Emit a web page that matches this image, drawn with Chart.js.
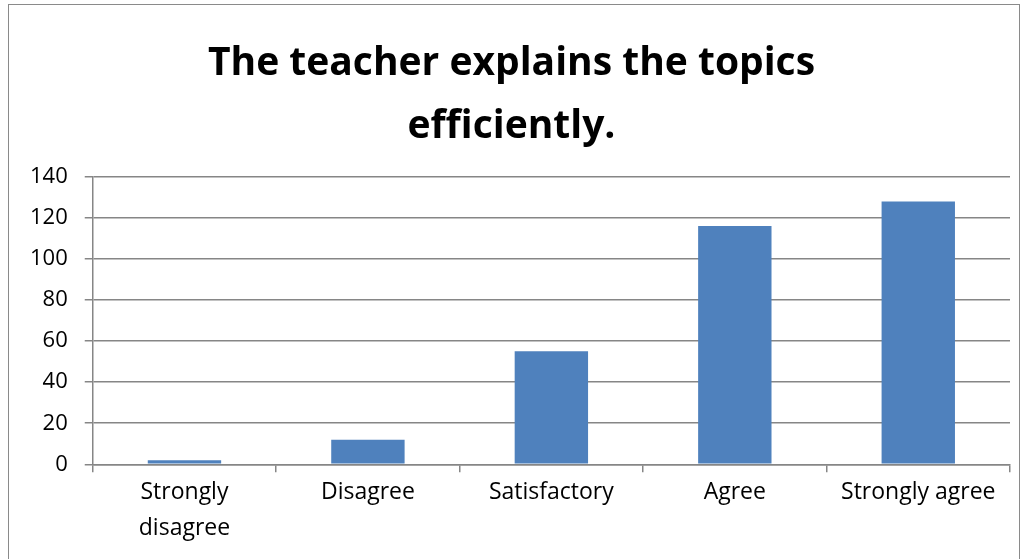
<!DOCTYPE html>
<html>
<head>
<meta charset="utf-8">
<script src="https://cdn.jsdelivr.net/npm/chart.js@4.4.0/dist/chart.umd.min.js"></script>
<style>
  html, body { margin: 0; padding: 0; background: #fff; }
  #wrap { width: 1028px; height: 559px; }
</style>
</head>
<body>
<div id="wrap"><canvas id="surveyChart"></canvas></div>
<script>
const categories = [['Strongly', 'disagree'], 'Disagree', 'Satisfactory', 'Agree', 'Strongly agree'];
const responses = [2, 12, 55, 116, 128];
const yTicks = [0, 20, 40, 60, 80, 100, 120, 140];
const chartTitle = ['The teacher explains the topics', 'efficiently.'];

const gridGray = '#868686';

// white page + the thin grey frame round the chart
const frame = {
  id: 'frame',
  beforeDraw(chart) {
    const c = chart.ctx;
    c.save();
    c.fillStyle = '#ffffff';
    c.fillRect(0, 0, chart.width, chart.height);
    c.strokeStyle = '#8a8a8a';
    c.lineWidth = 1;
    c.strokeRect(8.5, 4.5, 1011, 600);
    c.restore();
  }
};

const ctx = document.getElementById('surveyChart').getContext('2d');

new Chart(ctx, {
  type: 'bar',
  data: {
    labels: categories,
    datasets: [{
      data: responses,
      backgroundColor: '#4F81BD',
      borderWidth: 0,
      barPercentage: 0.4,
      categoryPercentage: 1
    }]
  },
  options: {
    responsive: true,
    maintainAspectRatio: false,
    animation: false,
    layout: { padding: { top: 0, left: 13, right: 18, bottom: 10 } },
    plugins: {
      legend: { display: false },
      tooltip: { enabled: false },
      title: {
        display: true,
        text: chartTitle,
        color: '#000',
        font: { family: '"Open Sans"', size: 39, weight: 'bold', lineHeight: 1.6 },
        padding: { top: 33, bottom: 19 }
      }
    },
    scales: {
      y: {
        min: yTicks[0],
        max: yTicks[yTicks.length - 1],
        ticks: {
          stepSize: yTicks[1] - yTicks[0],
          color: '#000',
          padding: 17,
          font: { family: '"Open Sans"', size: 22 }
        },
        grid: { color: gridGray, lineWidth: 1.5, tickLength: 8, tickColor: gridGray },
        border: { display: true, color: gridGray, width: 1.5 }
      },
      x: {
        ticks: {
          color: '#000',
          padding: 2,
          maxRotation: 0,
          font: { family: '"Open Sans"', size: 23, lineHeight: 1.58 }
        },
        grid: { display: true, drawOnChartArea: false, offset: true, tickLength: 8, color: gridGray, lineWidth: 1.5 },
        border: { display: true, color: gridGray, width: 1.5 }
      }
    }
  },
  plugins: [frame]
});
</script>
</body>
</html>
